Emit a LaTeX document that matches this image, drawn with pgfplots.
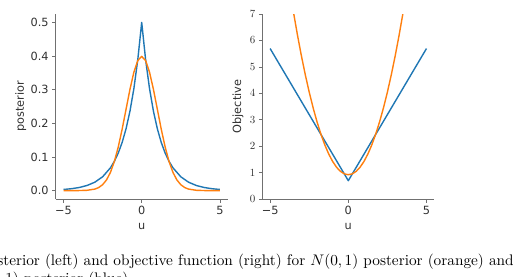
\documentclass[border=0pt]{standalone}
\usepackage{pgfplots}
\pgfplotsset{compat=1.18}
\usepackage{fontspec}
\newfontfamily\dejavu{DejaVu Sans}
\definecolor{tabblue}{HTML}{1F77B4}
\definecolor{taborange}{HTML}{FF7F0E}
\definecolor{txt}{HTML}{303030}
\definecolor{spine}{HTML}{707070}

\begin{document}
\begin{tikzpicture}
\useasboundingbox (0pt,0pt) rectangle (513pt,276pt);
\clip (0pt,0pt) rectangle (513pt,276pt);
\pgfplotsset{
 myax/.style={
  scale only axis, width=172pt, height=185pt, anchor=south west,
  axis x line*=bottom, axis y line*=left,
  axis line style={-, draw=spine, line width=0.7pt},
  tick align=outside, major tick length=3.5pt,
  every tick/.style={draw=spine, line width=0.7pt},
  xmin=-5.5, xmax=5.5, xtick={-5,0,5}, xticklabels={−5,0,5},
  ticklabel style={font=\dejavu\fontsize{11.3}{13}\selectfont, text=txt},
  label style={font=\dejavu\fontsize{11.3}{13}\selectfont, text=txt},
  xlabel={u},
  xlabel style={at={(axis description cs:0.5,-0.149)}, anchor=center},
  axis background/.style={fill=white},
  clip mode=individual,
  every axis plot/.append style={line width=1.4pt, line join=round},
 }
}
% left: posterior densities
\begin{axis}[myax, at={(55.7pt,77pt)},
  ymin=-0.025, ymax=0.525,
  ytick={0,0.1,0.2,0.3,0.4,0.5},
  yticklabels={0.0,0.1,0.2,0.3,0.4,0.5},
  ylabel={posterior},
  ylabel style={at={(axis description cs:-0.2035,0.5)}, anchor=center, rotate=0},
]
\addplot[tabblue] coordinates {
(-5,0.00337)(-4.5,0.00555)(-4,0.00916)(-3.5,0.01510)(-3,0.02489)(-2.5,0.04104)
(-2,0.06767)(-1.75,0.08689)(-1.5,0.11157)(-1.25,0.14325)(-1,0.18394)(-0.75,0.23618)
(-0.5,0.30327)(-0.25,0.38940)(0,0.5)(0.25,0.38940)(0.5,0.30327)(0.75,0.23618)
(1,0.18394)(1.25,0.14325)(1.5,0.11157)(1.75,0.08689)(2,0.06767)(2.5,0.04104)
(3,0.02489)(3.5,0.01510)(4,0.00916)(4.5,0.00555)(5,0.00337)};
\addplot[taborange] coordinates {
(-5,0.0000015)(-4.5,0.000016)(-4,0.00013)(-3.5,0.00087)(-3,0.00443)(-2.75,0.00909)
(-2.5,0.01753)(-2.25,0.03174)(-2,0.05399)(-1.75,0.08628)(-1.5,0.12952)(-1.25,0.18265)
(-1,0.24197)(-0.75,0.30114)(-0.5,0.35207)(-0.25,0.38667)(0,0.39894)(0.25,0.38667)
(0.5,0.35207)(0.75,0.30114)(1,0.24197)(1.25,0.18265)(1.5,0.12952)(1.75,0.08628)
(2,0.05399)(2.25,0.03174)(2.5,0.01753)(2.75,0.00909)(3,0.00443)(3.5,0.00087)
(4,0.00013)(4.5,0.000016)(5,0.0000015)};
\end{axis}
% right: objective
\begin{axis}[myax, at={(262.3pt,77pt)},
  ymin=0, ymax=7,
  ytick={0,1,2,3,4,5,6,7},
  ylabel={Objective},
  ylabel style={at={(axis description cs:-0.141,0.5)}, anchor=center, rotate=0},
]
\addplot[tabblue] coordinates {(-5,5.693)(0,0.693)(5,5.693)};
\addplot[taborange] coordinates {
(-4,8.919)(-3.75,7.950)(-3.5,7.044)(-3.25,6.200)(-3,5.419)(-2.75,4.700)(-2.5,4.044)
(-2.25,3.450)(-2,2.919)(-1.75,2.450)(-1.5,2.044)(-1.25,1.700)(-1,1.419)(-0.75,1.200)
(-0.5,1.044)(-0.25,0.950)(0,0.919)(0.25,0.950)(0.5,1.044)(0.75,1.200)(1,1.419)
(1.25,1.700)(1.5,2.044)(1.75,2.450)(2,2.919)(2.25,3.450)(2.5,4.044)(2.75,4.700)
(3,5.419)(3.25,6.200)(3.5,7.044)(3.75,7.950)(4,8.919)};
\end{axis}
% caption fragment (10pt text, scaled as in the page image)
\node[anchor=base east, inner sep=0pt, scale=1.53, font=\fontsize{10}{12}\selectfont]
  at (514pt,11pt) {posterior (left) and objective function (right) for $N(0,1)$ posterior (orange) and};
\node[anchor=base west, inner sep=0pt, scale=1.53, font=\fontsize{10}{12}\selectfont]
  at (5pt,-7.5pt) {$1)$ posterior (blue).};
\end{tikzpicture}
\end{document}
